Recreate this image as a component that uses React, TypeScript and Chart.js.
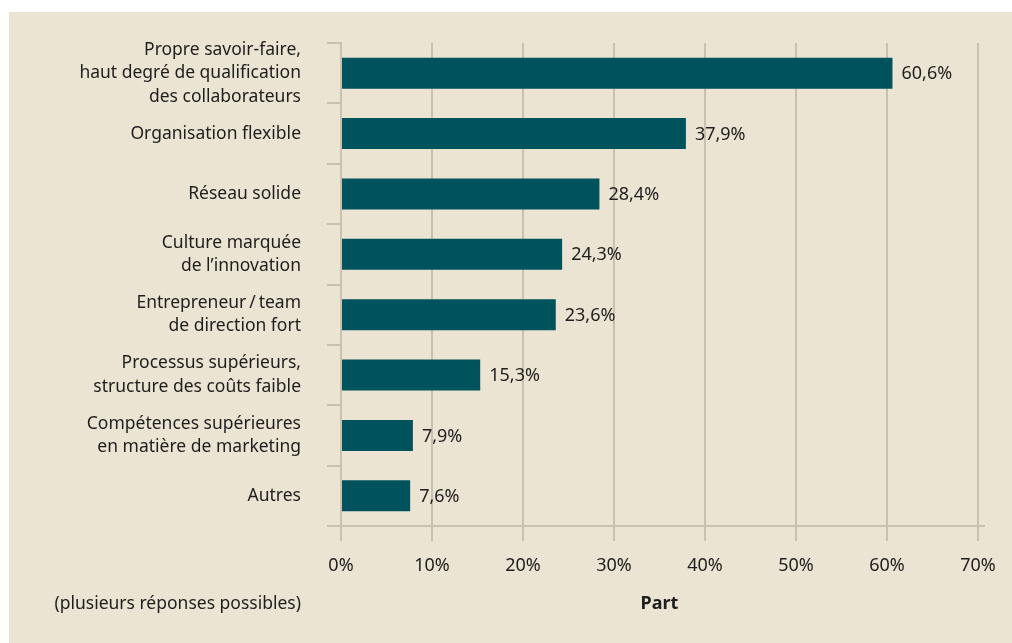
import { useEffect, useRef } from "react";
import { Chart, registerables } from "chart.js";

Chart.register(...registerables);

const categories: string[][] = [
  ["Propre savoir-faire,", "haut degré de qualification", "des collaborateurs"],
  ["Organisation flexible"],
  ["Réseau solide"],
  ["Culture marquée", "de l’innovation"],
  ["Entrepreneur\u2009/\u2009team", "de direction fort"],
  ["Processus supérieurs,", "structure des coûts faible"],
  ["Compétences supérieures", "en matière de marketing"],
  ["Autres"],
];
const shares: number[] = [60.6, 37.9, 28.4, 24.3, 23.6, 15.3, 7.9, 7.6];
const xTickValues: number[] = [0, 10, 20, 30, 40, 50, 60, 70];
const axisTitle = "Part";
const footnote = "(plusieurs réponses possibles)";

const BG = "#ebe4d2";
const BAR = "#00535c";
const GRID = "#c9c1b0";
const TEXT = "#1e1e1e";
const FONT = "'Noto Sans', sans-serif";

const fmt = (v: number) => v.toFixed(1).replace(".", ",") + "%";

export default function App() {
  const ref = useRef<HTMLCanvasElement | null>(null);

  useEffect(() => {
    if (!ref.current) return;
    const extras = {
      id: "extras",
      afterDatasetsDraw(chart: any) {
        const { ctx, chartArea } = chart;
        const meta = chart.getDatasetMeta(0);
        ctx.save();
        ctx.font = `18px ${FONT}`;
        ctx.fillStyle = TEXT;
        ctx.textAlign = "left";
        ctx.textBaseline = "middle";
        meta.data.forEach((bar: any, i: number) => {
          ctx.fillText(fmt(shares[i]), bar.x + 9, bar.y + 1);
        });
        // axis line extension to the right
        ctx.strokeStyle = GRID;
        ctx.lineWidth = 2;
        ctx.beginPath();
        ctx.moveTo(chartArea.right, Math.round(chartArea.bottom));
        ctx.lineTo(chartArea.right + 7, Math.round(chartArea.bottom));
        ctx.stroke();
        // footnote
        ctx.font = `17.5px ${FONT}`;
        ctx.textAlign = "right";
        ctx.fillText(footnote, chartArea.left - 40, 604);
        ctx.restore();
      },
    };
    const chart = new Chart(ref.current, {
      type: "bar",
      data: {
        labels: categories,
        datasets: [
          {
            data: shares,
            backgroundColor: BAR,
            barPercentage: 0.515,
            categoryPercentage: 1,
          },
        ],
      },
      options: {
        indexAxis: "y",
        animation: false,
        responsive: false,
        maintainAspectRatio: false,
        layout: { padding: { top: 43, right: 34, left: 0, bottom: 0 } },
        plugins: {
          legend: { display: false },
          tooltip: { enabled: false },
        },
        scales: {
          x: {
            min: 0,
            max: 70,
            afterBuildTicks: (scale: any) => {
              scale.ticks = xTickValues.map((v) => ({ value: v }));
            },
            afterFit: (scale: any) => {
              scale.height = 117;
              scale.paddingLeft = 0;
              scale.paddingRight = 0;
            },
            ticks: {
              color: TEXT,
              font: { family: FONT, size: 18 },
              padding: 14,
              autoSkip: false,
              maxRotation: 0,
              callback: (v: any) => v + "%",
            },
            grid: { color: GRID, lineWidth: 2, tickLength: 15, drawOnChartArea: true },
            border: { display: true, color: GRID, width: 2 },
            title: {
              display: true,
              text: axisTitle,
              color: TEXT,
              font: { family: FONT, size: 18, weight: "bold" },
              padding: { top: 0, bottom: 28 },
            },
          },
          y: {
            offset: true,
            afterFit: (scale: any) => {
              scale.width = 341;
              scale.paddingTop = 0;
              scale.paddingBottom = 0;
            },
            ticks: {
              color: TEXT,
              font: { family: FONT, size: 17.5, lineHeight: 1.34 },
              padding: 26,
              autoSkip: false,
            },
            grid: { color: GRID, lineWidth: 2, tickLength: 14, drawOnChartArea: false, offset: true },
            border: { display: true, color: GRID, width: 2 },
          },
        },
      },
      plugins: [extras],
    } as any);
    return () => chart.destroy();
  }, []);

  return (
    <div style={{ position: "absolute", left: 0, top: 0, width: 1012, height: 643, background: "#ffffff" }}>
      <div style={{ position: "absolute", left: 9, top: 12, right: 0, bottom: 0, background: BG }} />
      <canvas ref={ref} width={1012} height={643} style={{ position: "absolute", left: 0, top: 0, width: 1012, height: 643 }} />
    </div>
  );
}
